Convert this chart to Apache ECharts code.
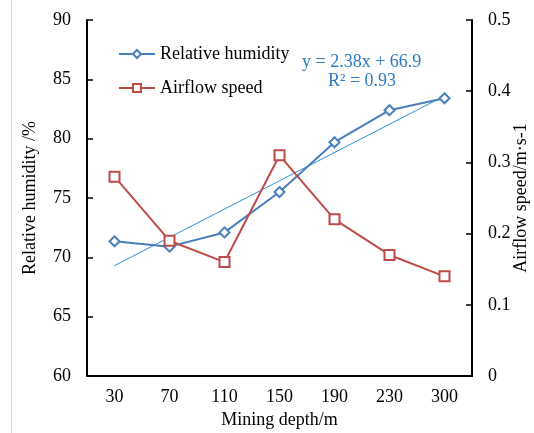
<!DOCTYPE html>
<html><head><meta charset="utf-8">
<script src="https://cdn.jsdelivr.net/npm/echarts@6/dist/echarts.min.js"></script>
<style>html,body{margin:0;padding:0;background:#fff}#c{width:534px;height:433px}</style>
</head><body><div id="c"></div>
<script>
var depths = ['30','70','110','150','190','230','300'];
var humidity = [71.35, 70.9, 72.1, 75.5, 79.7, 82.4, 83.4];
var airflow = [0.28, 0.19, 0.16, 0.31, 0.22, 0.17, 0.14];
var trendEnds = [69.3, 83.6];
var trendLabel = ['y = 2.38x + 66.9', 'R\u00b2 = 0.93'];

var trend = depths.map(function(d, i){ return i === 0 ? trendEnds[0] : (i === depths.length - 1 ? trendEnds[1] : null); });
var font = 'Liberation Serif';
var chart = echarts.init(document.getElementById('c'));
chart.setOption({
  animation: false,
  textStyle: {fontFamily: font},
  grid: {left: 87, right: 62, top: 20, bottom: 57, outerBoundsMode: 'none', containLabel: false},
  legend: {
    data: ['Relative humidity', 'Airflow speed'],
    orient: 'vertical', left: 118, top: 45, itemGap: 16, padding: 0,
    itemWidth: 36, itemHeight: 10,
    textStyle: {fontFamily: font, fontSize: 18, color: '#000'}
  },
  xAxis: {
    type: 'category', data: depths, boundaryGap: true,
    name: 'Mining depth/m', nameLocation: 'middle', nameGap: 35, nameMoveOverlap: false,
    nameTextStyle: {fontFamily: font, fontSize: 18, color: '#000'},
    axisLine: {lineStyle: {color: '#000', width: 2}},
    axisTick: {inside: true, length: 6, lineStyle: {color: '#000', width: 1.5}},
    axisLabel: {fontFamily: font, fontSize: 18, color: '#000', margin: 12}
  },
  yAxis: [{
    type: 'value', min: 60, max: 90, interval: 5,
    name: 'Relative humidity /%', nameLocation: 'middle', nameGap: 48, nameRotate: 90, nameMoveOverlap: false,
    nameTextStyle: {fontFamily: font, fontSize: 18, color: '#000'},
    axisLine: {show: true, lineStyle: {color: '#000', width: 2}},
    axisTick: {show: true, inside: true, length: 6, lineStyle: {color: '#000', width: 1.5}},
    axisLabel: {fontFamily: font, fontSize: 18, color: '#000', margin: 16},
    splitLine: {show: false}
  }, {
    type: 'value', min: 0, max: 0.5, interval: 0.1, position: 'right',
    name: 'Airflow speed/m\u00b7s-1', nameLocation: 'middle', nameGap: 40, nameRotate: 90, nameMoveOverlap: false,
    nameTextStyle: {fontFamily: font, fontSize: 18, color: '#000'},
    axisLine: {show: true, lineStyle: {color: '#000', width: 2}},
    axisTick: {show: true, inside: true, length: 6, lineStyle: {color: '#000', width: 1.5}},
    axisLabel: {fontFamily: font, fontSize: 18, color: '#000', margin: 16},
    splitLine: {show: false}
  }],
  series: [{
    name: 'Relative humidity', type: 'line', data: humidity, yAxisIndex: 0,
    symbol: 'emptyDiamond', symbolSize: 10,
    lineStyle: {color: '#4a7ebb', width: 2},
    itemStyle: {color: '#4a7ebb', borderWidth: 1.5}, z: 3
  }, {
    name: 'Airflow speed', type: 'line', data: airflow, yAxisIndex: 1,
    symbol: 'emptyRect', symbolSize: 10,
    lineStyle: {color: '#be4b48', width: 2},
    itemStyle: {color: '#be4b48', borderWidth: 1.5}, z: 3
  }, {
    name: 'Trend', type: 'line', data: trend, yAxisIndex: 0, connectNulls: true,
    symbol: 'none', lineStyle: {color: '#2f8fd8', width: 1}, z: 2
  }],
  graphic: [
    {type: 'line', shape: {x1: 11.5, y1: 0, x2: 11.5, y2: 433}, style: {stroke: '#d9d9d9', lineWidth: 1}},
    {type: 'text', left: 302, top: 53, style: {text: trendLabel[0], font: '18px "Liberation Serif"', fill: '#2e7ac2'}},
    {type: 'text', left: 328, top: 72, style: {text: trendLabel[1], font: '18px "Liberation Serif"', fill: '#2e7ac2'}}
  ]
});
</script></body></html>
